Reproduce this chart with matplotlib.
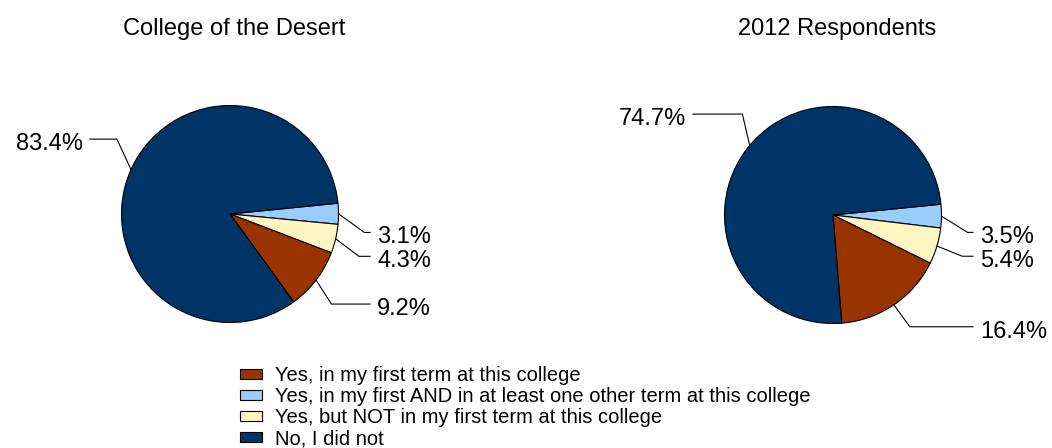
import numpy as np
import matplotlib.pyplot as plt

# Datos
categorias = ['Yes, in my first term at this college',
              'Yes, in my first AND in at least one other term at this college',
              'Yes, but NOT in my first term at this college',
              'No, I did not']
college = [9.2, 3.1, 4.3, 83.4]
respondents = [16.4, 3.5, 5.4, 74.7]
titulos = ['College of the Desert', '2012 Respondents']
colores = ['#993300', '#99CCFF', '#FFF5C2', '#003366']

# orden de dibujo (en sentido horario desde la derecha)
orden = [1, 2, 0, 3]

plt.rcParams['font.family'] = ['Liberation Sans', 'DejaVu Sans']

fig = plt.figure(figsize=(10.52, 4.48), dpi=100)
ax = fig.add_axes([0, 0, 1, 1])

R = 108.5
centros = [(230, 234), (833, 233)]
# altura de cada etiqueta (en radios), en el orden de dibujo
alturas = [[-0.17, -0.39, -0.83, 0.69],
           [-0.16, -0.38, -1.03, 0.93]]

wedges_izq = None
for titulo, valores, (cx, cy), ys in zip(titulos, [college, respondents], centros, alturas):
    vals = [valores[i] for i in orden]
    wedges, _ = ax.pie(vals, colors=[colores[i] for i in orden], startangle=5.7,
                       counterclock=False, center=(cx, cy), radius=R,
                       wedgeprops=dict(edgecolor='black', linewidth=0.8))
    if wedges_izq is None:
        wedges_izq = wedges
    for w, v, ly in zip(wedges, vals, ys):
        mid = np.deg2rad((w.theta1 + w.theta2) / 2)
        lado = 1 if np.cos(mid) > 0 else -1
        x0, y0 = cx + R * np.cos(mid), cy + R * np.sin(mid)
        ey = cy + ly * R
        ex = cx + lado * np.sqrt((1.25 * R) ** 2 - (ly * R) ** 2)
        ax.plot([x0, ex, cx + lado * 140], [y0, ey, ey], color='black', lw=0.8)
        ax.text(cx + lado * 147, ey - 5, f'{v}%', ha='left' if lado > 0 else 'right',
                va='center', fontsize=17)
    ax.text(cx + 4, 448 - 29, titulo, ha='center', va='center', fontsize=17)

handles = [wedges_izq[orden.index(i)] for i in range(4)]
ax.legend(handles, categorias, loc='upper left', bbox_to_anchor=(240, 448 - 366),
          bbox_transform=ax.transData, frameon=False, fontsize=14.5,
          handlelength=1.08, handleheight=0.4, handletextpad=0.64,
          labelspacing=0.1, borderpad=0, borderaxespad=0)

ax.set_xlim(0, 1052)
ax.set_ylim(0, 448)
ax.axis('off')

plt.savefig('out.png', dpi=100)
